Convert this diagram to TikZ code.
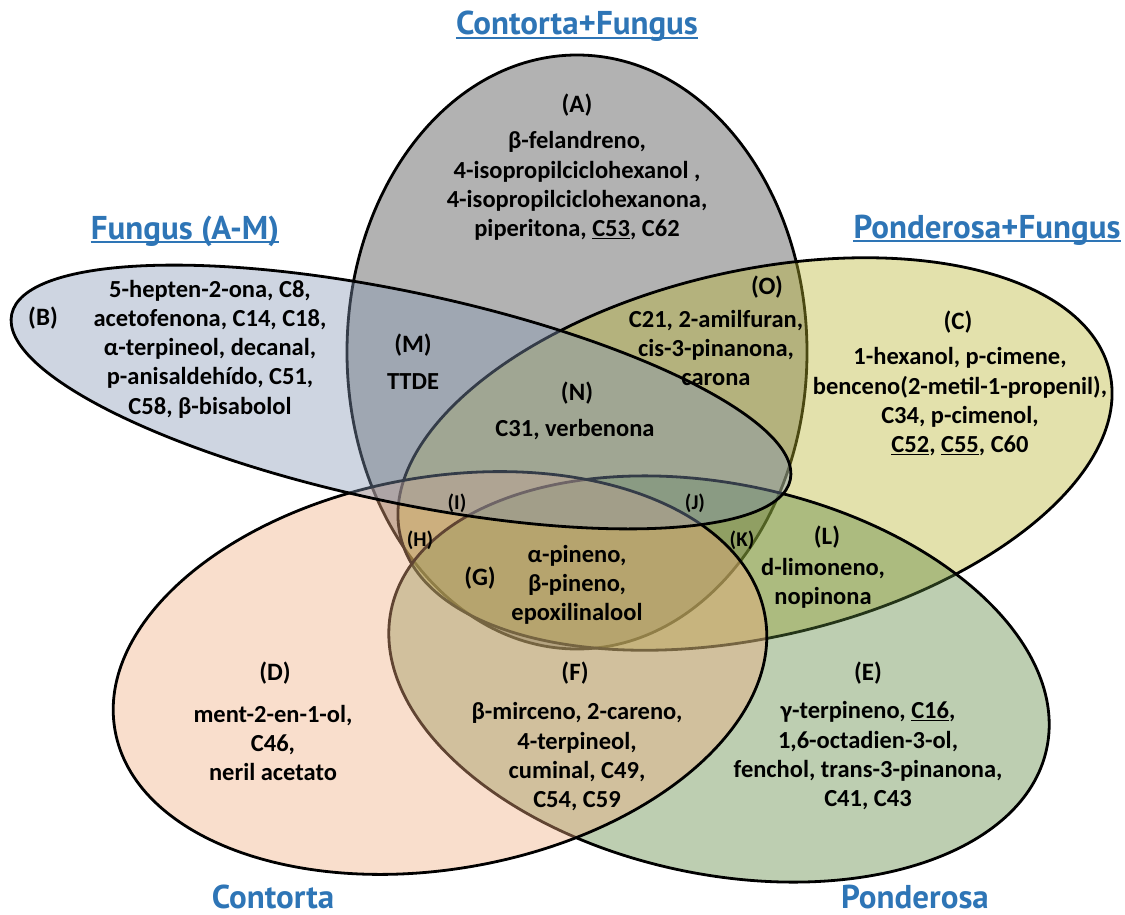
\documentclass[tikz,border=0pt]{standalone}
\usepackage{fontspec}
\setmainfont{Carlito}
\newfontfamily\headfont{PT Sans}
\definecolor{cgray}{RGB}{62,62,62}
\definecolor{cblue}{RGB}{132,150,180}
\definecolor{cyellow}{RGB}{185,180,47}
\definecolor{corange}{RGB}{240,172,127}
\definecolor{cgreen}{RGB}{90,132,60}
\definecolor{headblue}{RGB}{46,117,182}
\newcommand{\ulc}[1]{\underline{#1}}
\begin{document}
\begin{tikzpicture}[x=1pt,y=-1pt,
  ell/.style={draw=black, line width=2.8pt, fill opacity=0.4},
  txt/.style={font=\bfseries\fontsize{24.5}{29.3}\selectfont, align=center, inner sep=0pt},
  tag/.style={font=\bfseries\fontsize{25}{29}\selectfont, inner sep=0pt},
  smalltag/.style={font=\bfseries\fontsize{21}{24}\selectfont, inner sep=0pt},
  head/.style={font=\headfont\bfseries\fontsize{33}{38}\selectfont, text=headblue, inner sep=0pt, anchor=base},
  headline/.style={draw=headblue, line width=1.5pt}
]
\useasboundingbox (0,0) rectangle (1125,915);
% ellipses, in stacking order
\path[ell, fill=cgray] (577,352) ellipse [x radius=230, y radius=297];
\path[ell, fill=cyellow, rotate around={13:(755,454)}] (755,454) ellipse [x radius=364, y radius=183];
\path[ell, fill=cgreen, rotate around={-12:(719,679)}] (719,679) ellipse [x radius=335, y radius=195];
\path[ell, fill=corange, rotate around={10:(440,673)}] (440,673) ellipse [x radius=330, y radius=196];
\path[ell, fill=cblue, rotate around={-12:(401,397)}] (401,397) ellipse [x radius=398, y radius=105];

% headings
\node[head] (hCF) at (577,35) {Contorta+Fungus};
\draw[headline] ([yshift=-3pt]hCF.base west) -- ([yshift=-3pt]hCF.base east);
\node[head] (hF) at (185,239) {Fungus (A-M)};
\draw[headline] ([yshift=-3pt]hF.base west) -- ([yshift=-3pt]hF.base east);
\node[head] (hPF) at (987,238) {Ponderosa+Fungus};
\draw[headline] ([yshift=-3pt]hPF.base west) -- ([yshift=-3pt]hPF.base east);
\node[head] (hC) at (273,908) {Contorta};
\node[head] (hP) at (915,908) {Ponderosa};

% region A
\node[tag] (tA) at (577,105) {(A)};
\node[txt] (xA) at (577,186) {β-felandreno,\\4-isopropilciclohexanol ,\\4-isopropilciclohexanona,\\piperitona, \ulc{C53}, C62};
% region B
\node[tag] (tB) at (43,318) {(B)};
\node[txt] (xB) at (210,349) {5-hepten-2-ona, C8,\\acetofenona, C14, C18,\\α-terpineol, decanal,\\p-anisaldehído, C51,\\C58, β-bisabolol};
% region C
\node[tag] (tC) at (958,322) {(C)};
\node[txt] (xC) at (960,402) {1-hexanol, p-cimene,\\benceno(2-metil-1-propenil),\\C34, p-cimenol,\\\ulc{C52}, \ulc{C55}, C60};
% region M
\node[tag] (tM) at (413,345) {(M)};
\node[txt] (xM) at (413,382) {TTDE};
% region N
\node[tag] (tN) at (577,393) {(N)};
\node[txt] (xN) at (575,430) {C31, verbenona};
% region O
\node[tag] (tO) at (767,287) {(O)};
\node[txt] (xO) at (716,348) {C21, 2-amilfuran,\\cis-3-pinanona,\\carona};
% small regions
\node[smalltag] (tI) at (457,503) {(I)};
\node[smalltag] (tJ) at (695,503) {(J)};
\node[smalltag] (tH) at (420,540) {(H)};
\node[smalltag] (tK) at (742,540) {(K)};
% region G
\node[tag] (tG) at (480,578) {(G)};
\node[txt] (xG) at (577,585) {α-pineno,\\β-pineno,\\epoxilinalool};
% region L
\node[tag] (tL) at (827,537) {(L)};
\node[txt] (xL) at (823,583) {d-limoneno,\\nopinona};
% region D
\node[tag] (tD) at (275,673) {(D)};
\node[txt] (xD) at (273,743) {ment-2-en-1-ol,\\C46,\\neril acetato};
% region F
\node[tag] (tF) at (575,673) {(F)};
\node[txt] (xF) at (577,757) {β-mirceno, 2-careno,\\4-terpineol,\\cuminal, C49,\\C54, C59};
% region E
\node[tag] (tE) at (868,673) {(E)};
\node[txt] (xE) at (868,756) {γ-terpineno, \ulc{C16},\\1,6-octadien-3-ol,\\fenchol, trans-3-pinanona,\\C41, C43};
\end{tikzpicture}
\end{document}
